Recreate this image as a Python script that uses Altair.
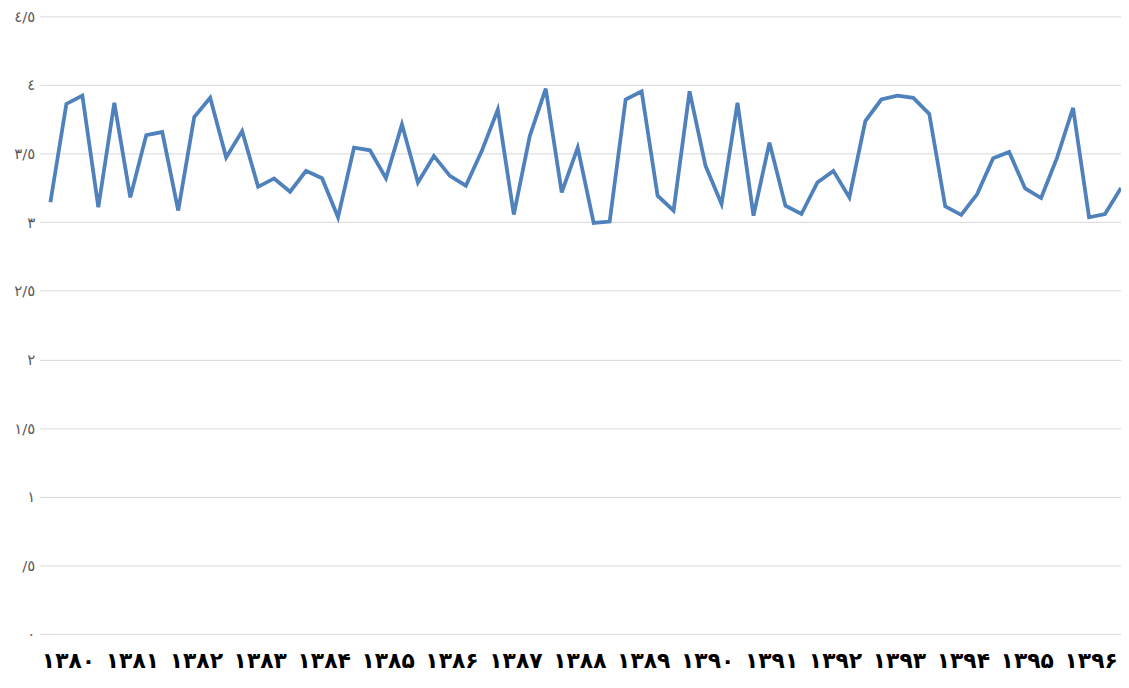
import altair as alt
import pandas as pd

years = ['۱۳۸۰', '۱۳۸۱', '۱۳۸۲', '۱۳۸۳', '۱۳۸۴', '۱۳۸۵', '۱۳۸۶', '۱۳۸۷', '۱۳۸۸',
         '۱۳۸۹', '۱۳۹۰', '۱۳۹۱', '۱۳۹۲', '۱۳۹۳', '۱۳۹۴', '۱۳۹۵', '۱۳۹۶']
y_labels = ['٠', '/٥', '١', '١/٥', '٢', '٢/٥', '٣', '٣/٥', '٤', '٤/٥']

values = [
    3.145, 3.862, 3.923, 3.109, 3.870, 3.181, 3.635, 3.657, 3.085, 3.766,
    3.906, 3.471, 3.664, 3.258, 3.319, 3.222, 3.374, 3.321, 3.036, 3.543,
    3.524, 3.321, 3.713, 3.290, 3.483, 3.338, 3.266, 3.520, 3.821, 3.056,
    3.628, 3.973, 3.217, 3.543, 2.995, 3.005, 3.894, 3.954, 3.193, 3.085,
    3.954, 3.411, 3.133, 3.870, 3.048, 3.580, 3.121, 3.060, 3.290, 3.374,
    3.181, 3.737, 3.894, 3.923, 3.906, 3.790, 3.116, 3.053, 3.205, 3.466,
    3.512, 3.246, 3.176, 3.471, 3.833, 3.036, 3.060, 3.250,
]

df = pd.DataFrame({"i": list(range(len(values))), "v": values})

year_js = "[" + ",".join("'%s'" % y for y in years) + "]"
ylab_js = "[" + ",".join("'%s'" % y for y in y_labels) + "]"

chart = alt.Chart(df).mark_line(color="#4F81BD", strokeWidth=3.8, clip=True).encode(
    x=alt.X(
        "i:Q",
        scale=alt.Scale(domain=[-0.665, 67], nice=False, zero=False),
        axis=alt.Axis(
            title=None,
            values=[4 * k + 1.1 for k in range(len(years))],
            labelExpr=year_js + "[floor(datum.value / 4)]",
            grid=False, domain=False, ticks=False,
            labelFont="DejaVu Sans", labelFontSize=22, labelFontWeight="bold",
            labelColor="#000000", labelPadding=17, labelFlush=False,
            labelOverlap=False,
        ),
    ),
    y=alt.Y(
        "v:Q",
        scale=alt.Scale(domain=[0, 4.5], nice=False),
        axis=alt.Axis(
            title=None,
            values=[0.5 * k for k in range(10)],
            labelExpr=ylab_js + "[round(datum.value * 2)]",
            grid=True, gridColor="#d9d9d9", gridWidth=1,
            domain=False, ticks=False,
            labelFont="DejaVu Sans", labelFontSize=15,
            labelColor="#595959", labelPadding=5,
        ),
    ),
).properties(
    width=1089,
    height=622,
    padding={"left": 32, "top": 6, "right": 0, "bottom": 46},
    autosize="none",
).configure_view(stroke=None)

chart.save("out.html", embed_options={"renderer": "svg", "actions": False})
